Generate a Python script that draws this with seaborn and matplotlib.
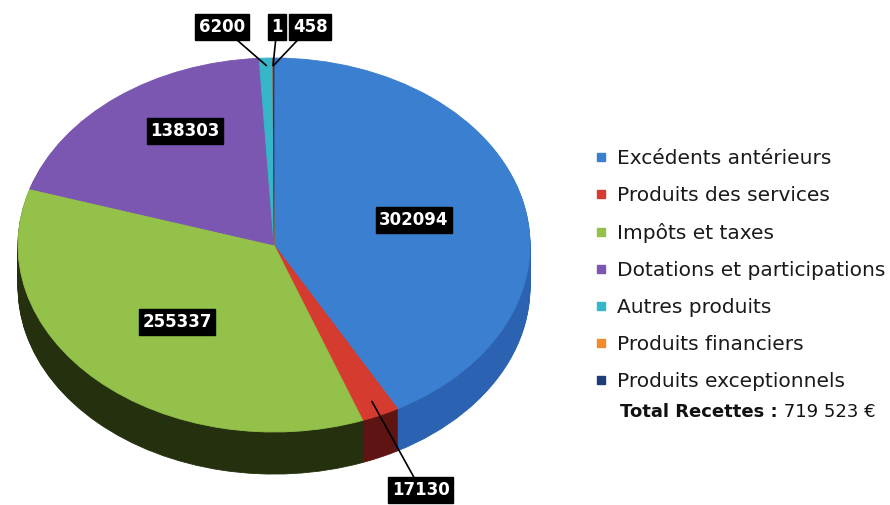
import matplotlib
matplotlib.use("Agg")
import matplotlib.pyplot as plt
import numpy as np
import seaborn as sns
from matplotlib.lines import Line2D

# data
categories = ["Excédents antérieurs", "Produits des services", "Impôts et taxes",
              "Dotations et participations", "Autres produits",
              "Produits financiers", "Produits exceptionnels"]
values = [302094, 17130, 255337, 138303, 6200, 1, 458]
top_colors = ["#3b7fd0", "#d63b2f", "#93c14a", "#7b57b2", "#35b7c9", "#f28a2c", "#1e3c78"]
side_colors = ["#2b62b2", "#5e1412", "#25300f", "#3e2a5e", "#1d6670", "#7a4515", "#10213f"]
total_label = "Total Recettes :"
total_value = " 719 523 €"

# layout (data units: x 1 = 256px, y 1 = 187px, centre of pie at 0,0)
label_pos = [(0.547, 0.134), (0.574, -1.31), (-0.379, -0.412),
             (-0.348, 0.610), (-0.203, 1.166), (0.012, 1.166), (0.141, 1.166)]
inner = [True, False, True, True, False, False, False]
depth = 0.225

sns.set_theme(style="white")
plt.rcParams['font.family'] = ['DejaVu Sans']

fig = plt.figure(figsize=(8.9, 5.05), dpi=100)
ax = fig.add_axes([0, 0, 1, 1])


def seal(ws):
    # edge in the same colour so stacked layers leave no seams
    for w in ws:
        w.set_edgecolor(w.get_facecolor())
        w.set_linewidth(0.6)


# side of the pie: stacked copies going down
for d in np.linspace(depth, 0.005, 40):
    ws, _ = ax.pie(values, colors=side_colors, startangle=90, counterclock=False,
                   center=(0, -d), radius=1, frame=True)
    seal(ws)

wedges, _ = ax.pie(values, colors=top_colors, startangle=90, counterclock=False,
                   center=(0, 0), radius=1, frame=True)
seal(wedges)

ax.set_aspect('auto')
ax.set_xlim(-274 / 256, (890 - 274) / 256)
ax.set_ylim((245 - 505) / 187, 245 / 187)
ax.axis('off')

box = dict(boxstyle='square,pad=0.22', fc='black', ec='black')
for w, v, pos, ins in zip(wedges, values, label_pos, inner):
    if ins:
        ax.text(pos[0], pos[1], str(v), color='white', fontsize=12, fontweight='bold',
                ha='center', va='center', bbox=box)
    else:
        mid = np.deg2rad((w.theta1 + w.theta2) / 2)
        r = 0.92 if v > 10000 else 0.96
        ax.annotate(str(v), xy=(r * np.cos(mid), r * np.sin(mid)), xytext=pos,
                    color='white', fontsize=12, fontweight='bold',
                    ha='center', va='center', bbox=box,
                    arrowprops=dict(arrowstyle='-', color='black', lw=1.2,
                                    shrinkA=0, shrinkB=0))

handles = [Line2D([], [], marker='s', linestyle='', markersize=6, color=c)
           for c in top_colors]
ax.legend(handles, categories, loc='upper left', bbox_to_anchor=(596 / 890, 1 - 149 / 505),
          frameon=False, fontsize=14.5, labelspacing=0.895, handlelength=0.5,
          handletextpad=0.55, borderaxespad=0, borderpad=0, labelcolor='#1a1a1a')

t = fig.text(620 / 890, 1 - 412 / 505, total_label, fontsize=13, fontweight='bold',
             va='center', ha='left', color='#111111')
fig.canvas.draw()
bb = t.get_window_extent()
fig.text(bb.x1 / 890, 1 - 412 / 505, total_value, fontsize=13, va='center',
         ha='left', color='#111111')

plt.savefig('out.png', dpi=100)
